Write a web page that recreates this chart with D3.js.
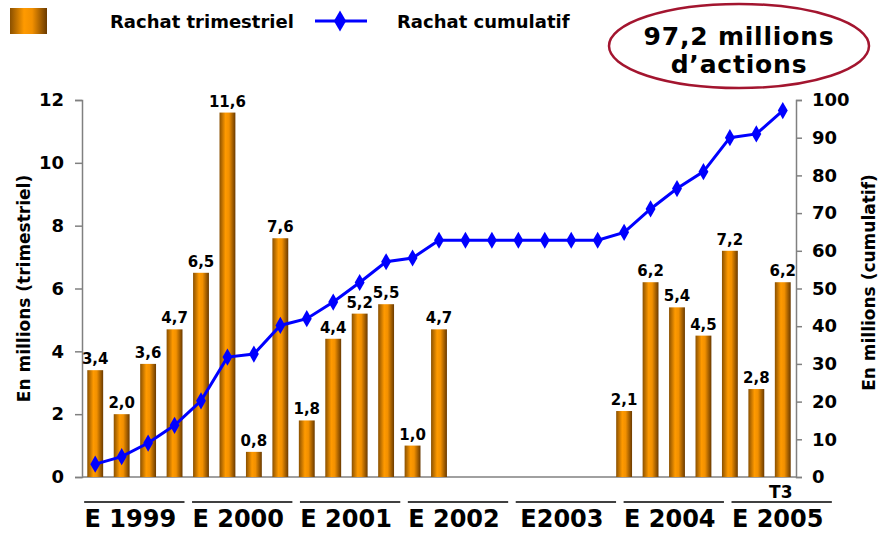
<!DOCTYPE html>
<html>
<head>
<meta charset="utf-8">
<script src="https://cdn.jsdelivr.net/npm/d3@7"></script>
<style>
  body { margin: 0; background: #fff; }
  text { font-family: "DejaVu Sans", Verdana, sans-serif; font-weight: bold; }
</style>
</head>
<body>
<div id="chart"></div>
<script>
// 27 quarters, T1 1999 .. T3 2005
let years = ["1999", "2000", "2001", "2002", "2003", "2004", "2005"];
let yearLabels = ["E 1999", "E 2000", "E 2001", "E 2002", "E2003", "E 2004", "E 2005"];
let quarters = ["T1 1999","T2 1999","T3 1999","T4 1999",
                "T1 2000","T2 2000","T3 2000","T4 2000",
                "T1 2001","T2 2001","T3 2001","T4 2001",
                "T1 2002","T2 2002","T3 2002","T4 2002",
                "T1 2003","T2 2003","T3 2003","T4 2003",
                "T1 2004","T2 2004","T3 2004","T4 2004",
                "T1 2005","T2 2005","T3 2005"];
// quarterly buyback (millions), null = nothing bought
let trimestriel = [3.4, 2.0, 3.6, 4.7,
                   6.5, 11.6, 0.8, 7.6,
                   1.8, 4.4, 5.2, 5.5,
                   1.0, 4.7, null, null,
                   null, null, null, null,
                   2.1, 6.2, 5.4, 4.5,
                   7.2, 2.8, 6.2];
// cumulative buyback (millions)
let cumulatif = [3.4, 5.4, 9.0, 13.7,
                 20.2, 31.8, 32.6, 40.2,
                 42.0, 46.4, 51.6, 57.1,
                 58.1, 62.8, 62.8, 62.8,
                 62.8, 62.8, 62.8, 62.8,
                 64.9, 71.1, 76.5, 81.0,
                 90.0, 91.0, 97.2];
let leftTicks = [0, 2, 4, 6, 8, 10, 12];
let rightTicks = [0, 10, 20, 30, 40, 50, 60, 70, 80, 90, 100];

let width = 880, height = 533;
let plot = { left: 82, right: 796, top: 100, bottom: 477 };
let fmt = d3.format(".1f");
let frNum = function(v) { return fmt(v).replace(".", ","); };

let svg = d3.select("#chart")
    .append("svg")
    .attr("width", width)
    .attr("height", height);

let defs = svg.append("defs");
let grad = defs.append("linearGradient")
    .attr("id", "barGrad")
    .attr("x1", "0%").attr("x2", "100%").attr("y1", "0%").attr("y2", "0%");
grad.append("stop").attr("offset", "0%").attr("stop-color", "#8a5000");
grad.append("stop").attr("offset", "38%").attr("stop-color", "#ff9a00");
grad.append("stop").attr("offset", "60%").attr("stop-color", "#f29000");
grad.append("stop").attr("offset", "100%").attr("stop-color", "#6a3a00");

let x = d3.scaleBand()
    .domain(quarters)
    .range([plot.left, plot.right])
    .paddingInner(0.4)
    .paddingOuter(0.2);

let yLeft = d3.scaleLinear().domain([0, 12]).range([plot.bottom, plot.top]);
let yRight = d3.scaleLinear().domain([0, 100]).range([plot.bottom, plot.top]);

// axes
let axisL = svg.append("g")
    .attr("transform", `translate(${plot.left},0)`)
    .call(d3.axisLeft(yLeft).tickValues(leftTicks).tickSize(7).tickPadding(11).tickFormat(d3.format("d")));
let axisR = svg.append("g")
    .attr("transform", `translate(${plot.right},0)`)
    .call(d3.axisRight(yRight).tickValues(rightTicks).tickSize(6).tickPadding(10).tickFormat(d3.format("d")));
[axisL, axisR].forEach(function(a) {
    a.select(".domain").attr("stroke", "#808080").attr("stroke-width", 1.5);
    a.selectAll(".tick line").attr("stroke", "#808080").attr("stroke-width", 1.5);
    a.selectAll(".tick text")
        .attr("fill", "#000")
        .style("font-size", "18px")
        .style("font-family", "'DejaVu Sans', Verdana, sans-serif")
        .style("font-weight", "bold");
});

svg.append("line")
    .attr("x1", plot.left).attr("x2", plot.right)
    .attr("y1", plot.bottom).attr("y2", plot.bottom)
    .attr("stroke", "#808080")
    .attr("stroke-width", 1.5);

// bars
let barData = quarters.map(function(q, i) { return { q: q, v: trimestriel[i] }; })
    .filter(function(d) { return d.v !== null; });

svg.selectAll("rect.bar")
    .data(barData)
    .enter()
    .append("rect")
    .attr("class", "bar")
    .attr("x", function(d) { return x(d.q); })
    .attr("width", x.bandwidth())
    .attr("y", function(d) { return yLeft(d.v); })
    .attr("height", function(d) { return plot.bottom - yLeft(d.v); })
    .attr("fill", "url(#barGrad)");

svg.selectAll("text.barlabel")
    .data(barData)
    .enter()
    .append("text")
    .attr("class", "barlabel")
    .attr("x", function(d) { return x(d.q) + x.bandwidth() / 2; })
    .attr("y", function(d) { return yLeft(d.v) - 6; })
    .attr("text-anchor", "middle")
    .style("font-size", "15px")
    .text(function(d) { return frNum(d.v); });

// cumulative line
let lineData = quarters.map(function(q, i) { return { q: q, v: cumulatif[i] }; });
let line = d3.line()
    .x(function(d) { return x(d.q) + x.bandwidth() / 2; })
    .y(function(d) { return yRight(d.v); });

svg.append("path")
    .datum(lineData)
    .attr("d", line)
    .attr("fill", "none")
    .attr("stroke", "#0000ff")
    .attr("stroke-width", 3);

let diamond = d3.symbol().type(d3.symbolDiamond).size(85);
svg.selectAll("path.marker")
    .data(lineData)
    .enter()
    .append("path")
    .attr("class", "marker")
    .attr("d", diamond)
    .attr("transform", function(d) { return `translate(${x(d.q) + x.bandwidth() / 2},${yRight(d.v)})`; })
    .attr("fill", "#0000ff");

// axis titles
svg.append("text")
    .attr("transform", `translate(30,${(plot.top + plot.bottom) / 2}) rotate(-90)`)
    .attr("text-anchor", "middle")
    .style("font-size", "17px")
    .text("En millions (trimestriel)");
svg.append("text")
    .attr("transform", `translate(875,${(plot.top + plot.bottom) / 2 - 6}) rotate(-90)`)
    .attr("text-anchor", "middle")
    .style("font-size", "17px")
    .text("En millions (cumulatif)");

// year groups under the axis
let xYear = d3.scaleBand()
    .domain(years)
    .range([plot.left, plot.right + 38])
    .paddingInner(0.07)
    .paddingOuter(0.02);

svg.selectAll("line.yearline")
    .data(years)
    .enter()
    .append("line")
    .attr("class", "yearline")
    .attr("x1", function(d) { return xYear(d); })
    .attr("x2", function(d) { return xYear(d) + xYear.bandwidth(); })
    .attr("y1", 502).attr("y2", 502)
    .attr("stroke", "#000")
    .attr("stroke-width", 1.5);

svg.selectAll("text.yearlabel")
    .data(years)
    .enter()
    .append("text")
    .attr("class", "yearlabel")
    .attr("x", function(d) { return xYear(d) + xYear.bandwidth() / 2 - 4; })
    .attr("y", 527)
    .attr("text-anchor", "middle")
    .style("font-size", "24px")
    .text(function(d, i) { return yearLabels[i]; });

svg.append("text")
    .attr("x", x("T3 2005") + x.bandwidth() / 2 - 2)
    .attr("y", 498)
    .attr("text-anchor", "middle")
    .style("font-size", "17px")
    .text("T3");

// legend
svg.append("rect")
    .attr("x", 10).attr("y", 8)
    .attr("width", 37).attr("height", 26)
    .attr("fill", "url(#barGrad)");
svg.append("text")
    .attr("x", 110).attr("y", 28)
    .style("font-size", "18px")
    .text("Rachat trimestriel");
svg.append("line")
    .attr("x1", 315).attr("x2", 367)
    .attr("y1", 21).attr("y2", 21)
    .attr("stroke", "#0000ff")
    .attr("stroke-width", 3);
svg.append("path")
    .attr("d", d3.symbol().type(d3.symbolDiamond).size(130))
    .attr("transform", "translate(340,21)")
    .attr("fill", "#0000ff");
svg.append("text")
    .attr("x", 397).attr("y", 28)
    .style("font-size", "18px")
    .text("Rachat cumulatif");

// callout ellipse
svg.append("ellipse")
    .attr("cx", 739).attr("cy", 46)
    .attr("rx", 130).attr("ry", 42)
    .attr("fill", "#fff")
    .attr("stroke", "#a3152f")
    .attr("stroke-width", 2.5);
svg.append("text")
    .attr("x", 739).attr("y", 45)
    .attr("text-anchor", "middle")
    .style("font-size", "25px")
    .style("letter-spacing", "0.8px")
    .text("97,2 millions");
svg.append("text")
    .attr("x", 739).attr("y", 73)
    .attr("text-anchor", "middle")
    .style("font-size", "25px")
    .style("letter-spacing", "0.8px")
    .text("d’actions");
</script>
</body>
</html>
